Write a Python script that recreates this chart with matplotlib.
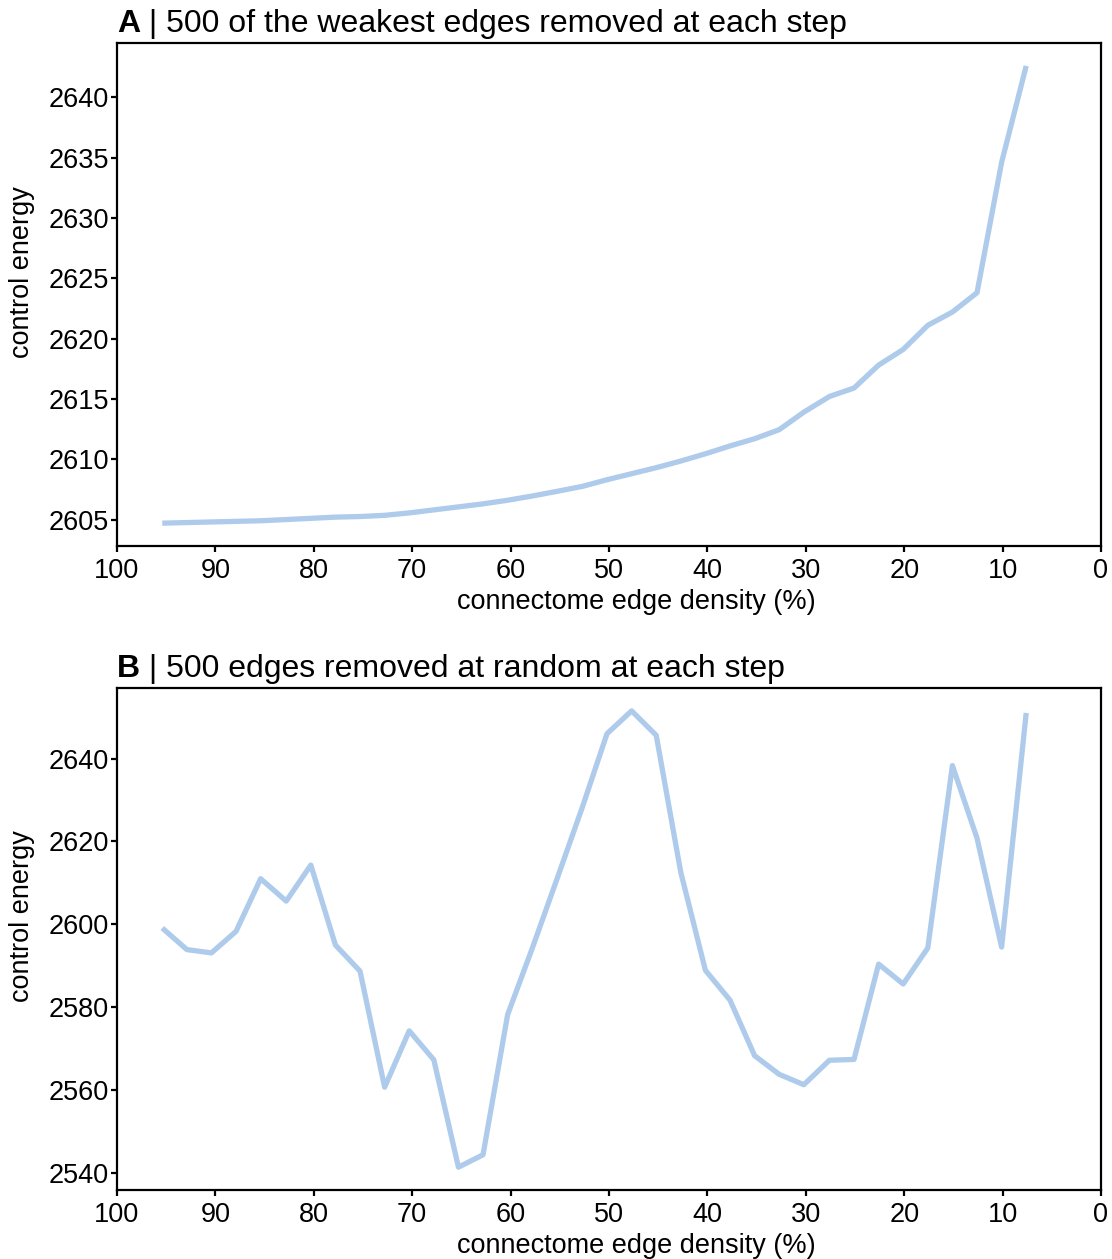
import numpy as np
import matplotlib
matplotlib.use("Agg")
import matplotlib.pyplot as plt

plt.rcParams["font.family"] = ["Liberation Sans", "DejaVu Sans"]

# edge density after each removal step (%)
density = [95.4, 92.9, 90.4, 87.9, 85.4, 82.8, 80.3, 77.8, 75.3, 72.8,
           70.3, 67.8, 65.3, 62.8, 60.3, 57.8, 55.2, 52.7, 50.2, 47.7,
           45.2, 42.7, 40.2, 37.7, 35.2, 32.7, 30.2, 27.6, 25.1, 22.6,
           20.1, 17.6, 15.1, 12.6, 10.1, 7.6]

# weakest-first pruning
energy_weakest = [2604.7, 2604.75, 2604.8, 2604.85, 2604.9, 2605.0, 2605.1, 2605.2,
                  2605.25, 2605.35, 2605.55, 2605.8, 2606.05, 2606.3, 2606.6, 2606.95,
                  2607.35, 2607.75, 2608.3, 2608.8, 2609.3, 2609.85, 2610.45, 2611.1,
                  2611.7, 2612.45, 2613.9, 2615.2, 2615.9, 2617.8, 2619.1, 2621.1,
                  2622.2, 2623.8, 2634.6, 2642.6]

# random pruning
energy_random = [2599.1, 2593.9, 2593.1, 2598.3, 2611.0, 2605.6, 2614.3, 2595.0,
                 2588.7, 2560.7, 2574.3, 2567.3, 2541.4, 2544.4, 2578.2, 2594.2,
                 2611.5, 2628.3, 2646.0, 2651.5, 2645.6, 2612.5, 2588.9, 2581.7,
                 2568.3, 2563.8, 2561.3, 2567.2, 2567.4, 2590.4, 2585.6, 2594.3,
                 2638.3, 2620.8, 2594.5, 2651.0]

PANELS = [
    ("A", "500 of the weakest edges removed at each step", energy_weakest,
     [2605, 2610, 2615, 2620, 2625, 2630, 2635, 2640]),
    ("B", "500 edges removed at random at each step", energy_random,
     [2540, 2560, 2580, 2600, 2620, 2640]),
]
LINE = "#aecbeb"
FS = 19.5

fig = plt.figure(figsize=(11.12, 12.59), dpi=100)
rects = [[0.1052, 0.5663, 0.8849, 0.3995], [0.1052, 0.0548, 0.8849, 0.3987]]

for rect, (letter, title, energy, yt) in zip(rects, PANELS):
    ax = fig.add_axes(rect)
    ax.plot(density, energy, color=LINE, lw=3.8, solid_capstyle="butt")
    ax.set_xlim(100, 0)
    ax.set_xticks([100, 90, 80, 70, 60, 50, 40, 30, 20, 10, 0])
    ax.set_yticks(yt)
    for s in ax.spines.values():
        s.set_linewidth(1.6)
    ax.tick_params(direction="out", length=4.5, width=1.6, labelsize=FS, pad=1.5)
    ax.tick_params(axis="x", pad=4)
    ax.set_xlabel("connectome edge density (%)", fontsize=FS)
    ax.set_ylabel("control energy", fontsize=FS)
    ax.xaxis.set_label_coords(0.528, -0.085)
    ax.yaxis.set_label_coords(-0.083, 0.545)
    t = ax.text(0.0, 1.008, letter, transform=ax.transAxes, fontsize=23,
                fontweight="bold", ha="left", va="bottom")
    ax.annotate(" | " + title, xy=(1, 0), xycoords=t, fontsize=23,
                ha="left", va="bottom")

fig.savefig("out.png", dpi=100)
